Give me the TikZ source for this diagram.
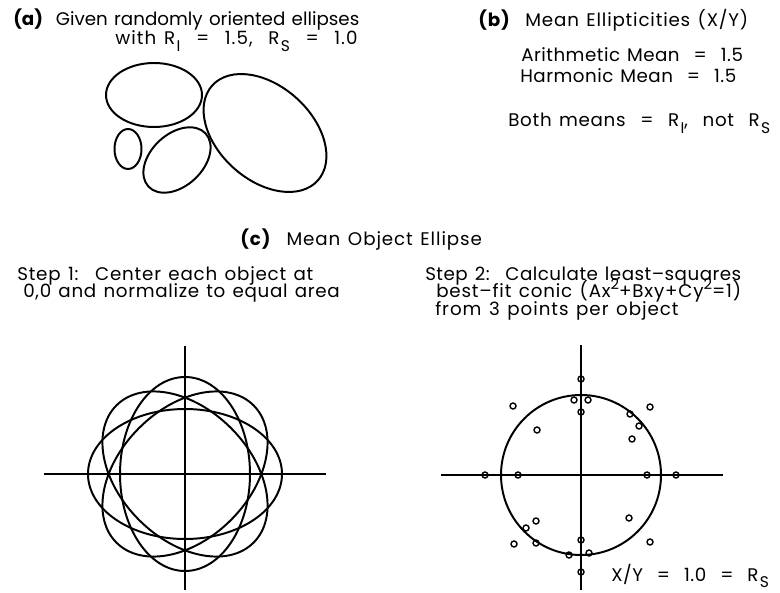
\documentclass[tikz,border=0pt]{standalone}
\usepackage{fontspec}
\setmainfont{Poppins}[LetterSpace=2.7, WordSpace=1.3]
\usetikzlibrary{positioning}

% lowered / raised small text, as in the plotter labels
\newcommand{\lowsub}[1]{\kern1pt\raisebox{-0.6ex}{\fontsize{11}{11}\selectfont #1}}
\newcommand{\highsup}[1]{\smash{\raisebox{0.8ex}{\fontsize{10.5}{10.5}\selectfont #1}}}

\tikzset{
  lbl/.style={anchor=base west, inner sep=0pt, font=\fontsize{13}{15}\selectfont},
  spaced/.style={font=\fontsize{13}{15}\selectfont\addfontfeatures{LetterSpace=#1}},
  outline/.style={line width=1.4pt},
  axisline/.style={line width=1pt},
  datapt/.style={line width=1pt}
}

\begin{document}
\begin{tikzpicture}[x=0.25mm, y=0.25mm]
\useasboundingbox (0,0) rectangle (780,592);

% (a) ellissi orientate a caso
\node[lbl, spaced=0] (capA1) at (13,566) {\textbf{(a)}\ \ Given randomly oriented ellipses};
\node[lbl, spaced=6] (capA2) at (115,547) {with R\lowsub{I} \ = \ 1.5, \ R\lowsub{S} \ = \ 1.0};

\draw[outline] (154,497) ellipse (48 and 32);
\draw[outline] (128,443) ellipse (13.5 and 20);
\draw[outline, rotate around={43:(177,432)}] (177,432) ellipse (39 and 26);
\draw[outline, rotate around={-42:(265,459)}] (265,459) ellipse (71 and 47);

% (b) medie
\node[lbl, spaced=4.5] (capB) at (478,565) {\textbf{(b)}\ \ Mean Ellipticities (X/Y)};
\node[lbl] (arith) at (521,530) {Arithmetic Mean \ = \ 1.5};
\node[lbl] (harm) at (520,509) {Harmonic Mean \ = \ 1.5};
\node[lbl, spaced=4] (both) at (508,465) {Both means \ = \ R\lowsub{I}, \ not \ R\lowsub{S}};

% (c) ellisse media
\node[lbl, spaced=5] (capC) at (240,346) {\textbf{(c)}\ \ Mean Object Ellipse};

\node[lbl, spaced=4.3] (stepOneA) at (17,311) {Step 1: \ Center each object at};
\node[lbl, spaced=3.8] (stepOneB) at (23,294) {0,0 and normalize to equal area};

\node[lbl] (stepTwoA) at (425,311) {Step 2: \ Calculate least--squares};
\node[lbl, spaced=4.5] (stepTwoB) at (436,294) {best--fit conic (Ax\highsup{2}+Bxy+Cy\highsup{2}=1)};
\node[lbl, spaced=5.2] (stepTwoC) at (435,277) {from 3 points per object};

% Passo 1: ellissi centrate
\draw[axisline] (44,118) -- (326,118);
\draw[axisline] (185,246) -- (185,2);
\foreach \ang in {0,45,90,135}
  \draw[outline, rotate around={\ang:(185,118)}] (185,118) ellipse (97 and 65);

% Passo 2: cerchio e punti
\draw[axisline] (441,117) -- (723,117);
\draw[axisline] (581,247) -- (581,2);
\draw[outline] (581,117) circle (80);
\begin{scope}[shift={(581,117)}]
  \foreach \dx/\dy in {-7/75, 7/75, 0/96, 0/63, -68/69, 69/68, 49/61, 58/49,
                       -44/45, 51/36, -96/0, -63/0, 66/0, 95/0, 48/-43, -45/-46,
                       -55/-53, -67/-69, -45/-68, 0/-65, 69/-67, -12/-80, 8/-78, 0/-97}
    \draw[datapt] (\dx,\dy) circle (3);
\end{scope}

\node[lbl] (ratio) at (611,10.5) {X/Y \ = \ 1.0 \ = \ R\lowsub{S}};

\end{tikzpicture}
\end{document}
